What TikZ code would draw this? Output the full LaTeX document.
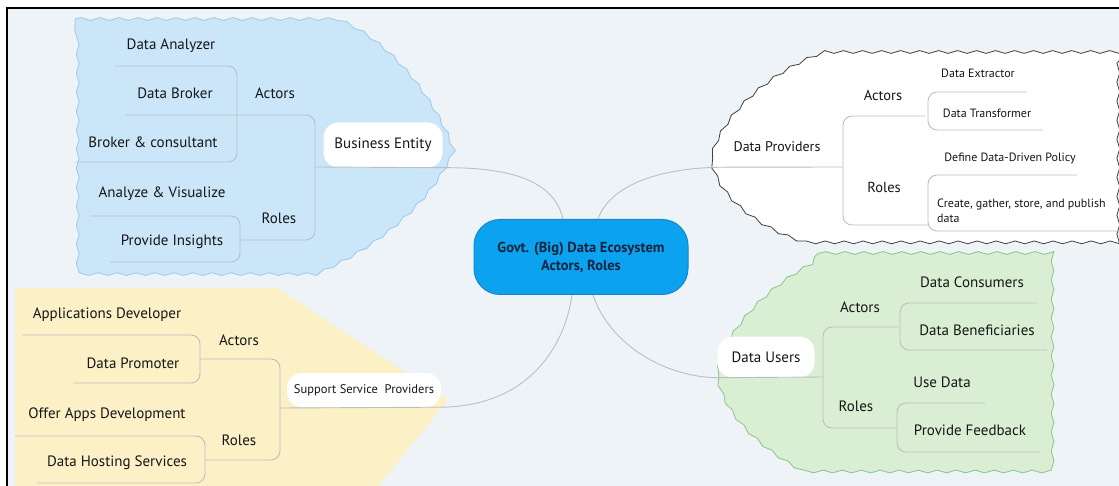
\documentclass[tikz,border=0pt]{standalone}
\usepackage{fontspec}
\setmainfont{PT Sans}
\usetikzlibrary{positioning,decorations.pathmorphing}
\definecolor{bgcol}{HTML}{EEF3F7}
\definecolor{linegrey}{HTML}{BABFC4}
\definecolor{bluefill}{HTML}{CAE6F8}
\definecolor{blueedge}{HTML}{9ACBEA}
\definecolor{yellowfill}{HTML}{FCF0C6}
\definecolor{greenfill}{HTML}{D9EED3}
\definecolor{greenedge}{HTML}{8CC488}
\definecolor{corefill}{HTML}{0BA2EF}
\definecolor{coreedge}{HTML}{1B84C6}
\definecolor{coretext}{HTML}{15243C}
\definecolor{inktext}{HTML}{161616}
\tikzstyle{branch} = [draw=linegrey, line width=0.9pt, rounded corners=9pt]
\tikzstyle{link} = [draw=linegrey, line width=0.9pt]
\tikzstyle{cloud edge} = [decorate, decoration={snake, amplitude=1.4pt, segment length=19pt}]
\tikzstyle{leaf} = [text=inktext, inner sep=0pt, font=\fontsize{15}{17}\selectfont]
\tikzstyle{small leaf} = [text=inktext, inner sep=0pt, font=\fontsize{12}{15}\selectfont]
\tikzstyle{topic} = [fill=white, rounded corners=15pt, text=inktext, inner sep=0pt]
\tikzstyle{core} = [fill=corefill, draw=coreedge, line width=1pt, rounded corners=26pt,
  minimum width=214pt, minimum height=75pt, align=center, text=coretext,
  font=\bfseries\fontsize{14.5}{18}\selectfont]

\begin{document}
\begin{tikzpicture}[x=1pt,y=-1pt]
  \useasboundingbox (0,0) rectangle (1119,486);
  \clip (0,0) rectangle (1119,486);
  \fill[bgcol] (7,8) rectangle (1119,486);
  \draw[line width=1.6pt] (7,492) -- (7,8) -- (1125,8);
  % Clouds
  \fill[yellowfill] (15,288) -- (277,288) -- (448,400) -- (375,490) -- (15,490) -- cycle;
  \draw[cloud edge, fill=bluefill, draw=blueedge, line width=0.8pt] (75,19) -- (330,19)
    .. controls (385,40) and (430,100) .. (448,150)
    .. controls (425,205) and (370,250) .. (307,277) -- (75,277) -- cycle;
  \draw[cloud edge, fill=white, draw=black!75, line width=0.8pt] (1125,52) -- (830,52)
    .. controls (780,68) and (722,115) .. (715,162)
    .. controls (722,200) and (768,230) .. (805,241) -- (1125,241) -- cycle;
  \draw[cloud edge, fill=greenfill, draw=greenedge, line width=0.8pt] (820,253) -- (1050,253)
    -- (1050,467) -- (800,467)
    .. controls (752,442) and (716,405) .. (713,368)
    .. controls (720,320) and (775,272) .. (820,253) -- cycle;
  % Centre
  \node[core] (core) at (581,257) {Govt. (Big) Data Ecosystem\\Actors, Roles};
  % Business Entity
  \node[topic, minimum width=119pt, minimum height=45pt, font=\fontsize{15}{17}\selectfont] (BE) at (383,145) {Business Entity};
  \node[leaf] (BEa) at (275,93) {Actors};
  \node[leaf] (BEr) at (279,218) {Roles};
  \node[leaf] (BEa1) at (171,46) {Data Analyzer};
  \node[leaf] (BEa2) at (175,93) {Data Broker};
  \node[leaf] (BEa3) at (153,142) {Broker \& consultant};
  \node[leaf] (BEr1) at (162,194) {Analyze \& Visualize};
  \node[leaf] (BEr2) at (172,242) {Provide Insights};
  \draw[branch] (125,115) -- (315,115) -- (315,240) -- (240,240);
  \draw[link] (315,167) -- (BE.south east);
  \draw[branch] (115,66) -- (237,66) -- (237,162) -- (75,162);
  \draw[branch] (90,216) -- (240,216) -- (240,262) -- (110,262);
  \draw[link] (BE.south east) .. controls (520,167) and (555,185) .. ([xshift=-18pt]core.north);
  % Support Service Providers
  \node[topic, minimum width=154pt, minimum height=34pt, font=\fontsize{12.5}{15}\selectfont] (SSP) at (364,390) {Support Service\ \ Providers};
  \node[leaf] (SSPa) at (239,340) {Actors};
  \node[leaf] (SSPr) at (239,440) {Roles};
  \node[leaf] (SSPa1) at (107,315) {Applications Developer};
  \node[leaf] (SSPa2) at (133,363) {Data Promoter};
  \node[leaf] (SSPr1) at (107,415) {Offer Apps Development};
  \node[leaf] (SSPr2) at (117,463) {Data Hosting Services};
  \draw[branch] (22,335) -- (200,335) -- (200,383) -- (73,383);
  \draw[branch] (200,359) -- (280,359) -- (280,460) -- (205,460);
  \draw[branch] (15,436) -- (205,436) -- (205,483) -- (37,483);
  \draw[link] (280,408) -- (SSP.south east) .. controls (530,406) and (565,345) .. ([xshift=-9pt]core.south);
  % Data Providers
  \node[topic, minimum width=100pt, minimum height=40pt, font=\fontsize{14}{17}\selectfont] (DP) at (777,147) {Data Providers};
  \node[leaf, font=\fontsize{14.5}{17}\selectfont] (DPa) at (883,95) {Actors};
  \node[leaf, font=\fontsize{14.5}{17}\selectfont] (DPr) at (884,187) {Roles};
  \node[small leaf] (DPa1) at (978,73) {Data Extractor};
  \node[small leaf] (DPa2) at (987,113) {Data Transformer};
  \node[small leaf] (DPr1) at (1010,158) {Define Data-Driven Policy};
  \node[small leaf, align=left, anchor=west] (DPr2) at (937,211) {Create, gather, store, and publish\\data};
  \draw[branch] (925,116) -- (843,116) -- (843,225) -- (928,225);
  \draw[branch] (1027,92) -- (928,92) -- (928,130) -- (1043,130);
  \draw[branch] (1077,175) -- (928,175) -- (928,231) -- (1125,231);
  \draw[link] ([xshift=17pt]core.north) .. controls (610,185) and (660,167) .. (DP.south west) -- (843,167);
  % Data Users
  \node[topic, minimum width=97pt, minimum height=41pt, font=\fontsize{15}{17}\selectfont] (DU) at (766,357) {Data Users};
  \node[leaf] (DUa) at (860,307) {Actors};
  \node[leaf] (DUr) at (856,406) {Roles};
  \node[leaf] (DUa1) at (972,282) {Data Consumers};
  \node[leaf] (DUa2) at (977,330) {Data Beneficiaries};
  \node[leaf] (DUr1) at (942,382) {Use Data};
  \node[leaf] (DUr2) at (970,430) {Provide Feedback};
  \draw[branch] (898,327) -- (823,327) -- (823,428) -- (897,428);
  \draw[branch] (1037,303) -- (900,303) -- (900,350) -- (1047,350);
  \draw[branch] (985,403) -- (897,403) -- (897,452) -- (1040,452);
  \draw[link] ([xshift=12pt]core.south) .. controls (610,345) and (665,377) .. (DU.south west) -- (823,377);
\end{tikzpicture}
\end{document}
